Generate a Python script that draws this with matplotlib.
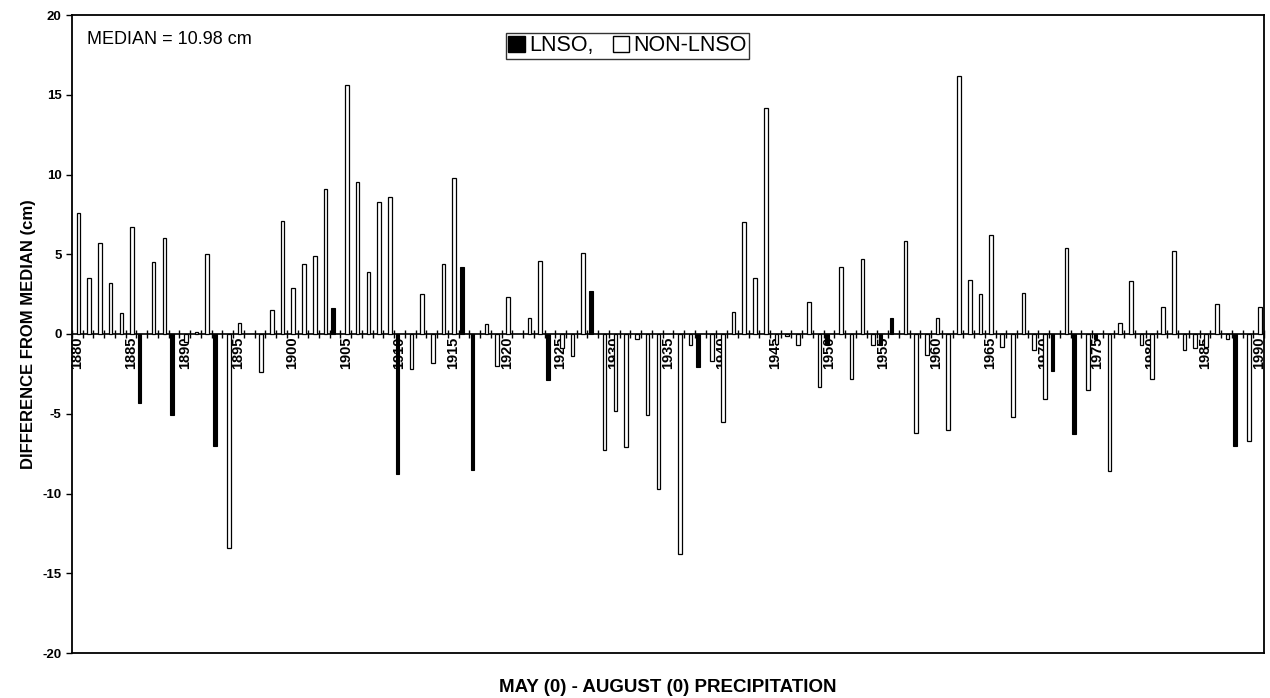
import matplotlib
matplotlib.use("Agg")
import matplotlib.pyplot as plt
from matplotlib.patches import Patch
import numpy as np

plt.rcParams['font.family'] = ['Liberation Sans', 'DejaVu Sans']
plt.rcParams['axes.unicode_minus'] = False

years = list(range(1880, 1991))
diff = [7.6, 3.5, 5.7, 3.2, 1.3, 6.7, -4.3, 4.5, 6.0, -5.1,
        -0.5, 0.1, 5.0, -7.0, -13.4, 0.7, 0.0, -2.4, 1.5, 7.1,
        2.9, 4.4, 4.9, 9.1, 1.6, 15.6, 9.5, 3.9, 8.3, 8.6,
        -8.8, -2.2, 2.5, -1.8, 4.4, 9.8, 4.2, -8.5, 0.6, -2.0,
        2.3, 0.0, 1.0, 4.6, -2.9, -0.9, -1.4, 5.1, 2.7, -7.3,
        -4.8, -7.1, -0.3, -5.1, -9.7, 0.0, -13.8, -0.7, -2.1, -1.7,
        -5.5, 1.4, 7.0, 3.5, 14.2, -0.6, -0.15, -0.7, 2.0, -3.3,
        -0.6, 4.2, -2.8, 4.7, -0.7, -0.7, 1.0, 5.8, -6.2, -1.3,
        1.0, -6.0, 16.2, 3.4, 2.5, 6.2, -0.8, -5.2, 2.6, -1.0,
        -4.1, -2.3, 5.4, -6.3, -3.5, -0.3, -8.6, 0.7, 3.3, -0.7,
        -2.8, 1.7, 5.2, -1.0, -0.9, -0.8, 1.9, -0.3, -7.0, -6.7,
        1.7]
lnso_years = [1886, 1889, 1893, 1904, 1910, 1916, 1917, 1924, 1928, 1938,
              1950, 1955, 1956, 1971, 1973, 1975, 1988]
label_years = list(range(1880, 1991, 5))

idx = np.arange(len(years))
is_lnso = np.array([y in lnso_years for y in years])
vals = np.array(diff)
nz = vals != 0

fig = plt.figure(figsize=(12.7, 6.98), dpi=100)
ax = fig.add_axes([72/1270, 1-653/698, 1192/1270, 638/698])

w = 0.34
m = is_lnso & nz
ax.bar(idx[m] - 0.2, vals[m], w, color='black', edgecolor='black', linewidth=0.8)
m = ~is_lnso & nz
ax.bar(idx[m] + 0.1, vals[m], w, color='white', edgecolor='black', linewidth=0.9)

ax.set_xlim(-0.5, len(years) - 0.5)
ax.set_ylim(-20, 20)
ax.set_yticks(np.arange(-20, 21, 5))
ax.tick_params(axis='y', direction='out', length=4, width=1, labelsize=9.5)
for t in ax.get_yticklabels():
    t.set_fontweight('bold')
ax.set_xticks([])
for s in ax.spines.values():
    s.set_linewidth(1.3)

# category axis drawn through zero
sec = ax.secondary_xaxis(0.5)
sec.set_alignment('bottom')
sec.set_xticks([years.index(y) for y in label_years])
sec.set_xticklabels([str(y) for y in label_years], rotation=90, fontsize=10.5, fontweight='bold')
sec.set_xticks(np.arange(len(years) + 1) - 0.5, minor=True)
sec.tick_params(axis='x', which='major', length=0, pad=2)
sec.tick_params(axis='x', which='minor', direction='inout', length=6, width=1)
sec.spines['bottom'].set_linewidth(1.2)

ax.set_ylabel('DIFFERENCE FROM MEDIAN (cm)', fontsize=12, fontweight='bold', labelpad=5)
ax.set_xlabel('MAY (0) - AUGUST (0) PRECIPITATION', fontsize=13.5, fontweight='bold', labelpad=19)

ax.text(0.013, 0.962, 'MEDIAN = 10.98 cm', transform=ax.transAxes, fontsize=13, va='center', ha='left')

handles = [Patch(facecolor='black', edgecolor='black'), Patch(facecolor='white', edgecolor='black')]
leg = ax.legend(handles, ['LNSO,', 'NON-LNSO'], loc='upper center', bbox_to_anchor=(0.466, 0.972),
                ncol=2, fontsize=15.5, frameon=True, fancybox=False, handlelength=0.75, handleheight=0.75,
                handletextpad=0.2, columnspacing=0.9, borderpad=0.12, borderaxespad=0)
leg.get_frame().set_edgecolor('black')
leg.get_frame().set_linewidth(1.0)

plt.savefig('out.png', dpi=100)
